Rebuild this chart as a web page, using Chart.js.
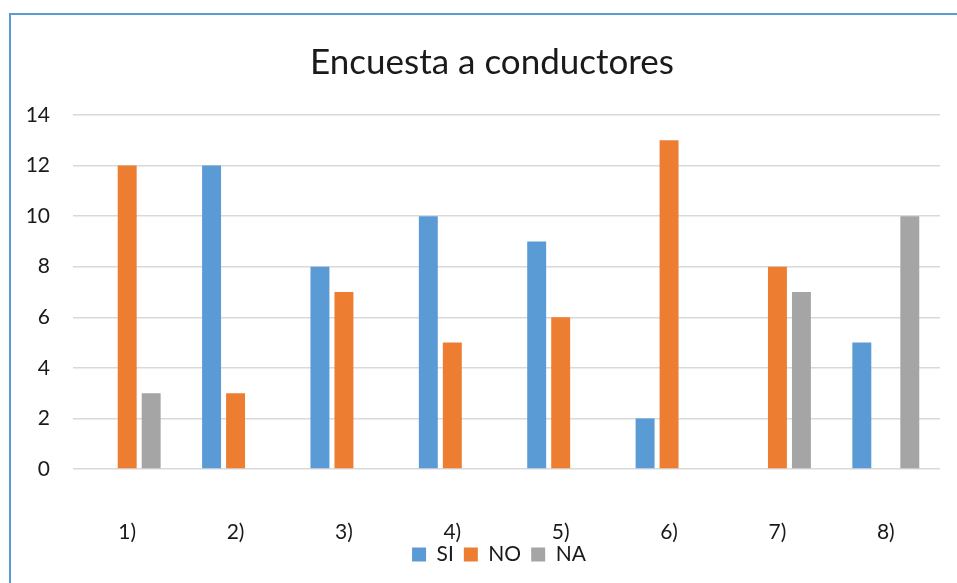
<!DOCTYPE html>
<html>
<head>
<meta charset="utf-8">
<script src="https://cdn.jsdelivr.net/npm/chart.js@4/dist/chart.umd.min.js"></script>
<style>
  html, body { margin: 0; padding: 0; background: #fff; overflow: hidden; }
  #wrap { position: relative; width: 957px; height: 583px; }
  #frame {
    position: absolute; left: 9px; top: 13px; width: 960px; height: 600px;
    border-left: 2px solid #5b9bd5; border-top: 2px solid #5b9bd5;
    box-sizing: border-box; pointer-events: none;
  }
  canvas { position: absolute; left: 0; top: 0; }
</style>
</head>
<body>
<div id="wrap">
  <canvas id="c" width="957" height="583"></canvas>
  <div id="frame"></div>
</div>
<script>
const categories = ['1)', '2)', '3)', '4)', '5)', '6)', '7)', '8)'];
const siValues = [0, 12, 8, 10, 9, 2, 0, 5];
const noValues = [12, 3, 7, 5, 6, 13, 8, 0];
const naValues = [3, 0, 0, 0, 0, 0, 7, 10];
const yTicks = [0, 2, 4, 6, 8, 10, 12, 14];

const FONT = 'Lato, "Liberation Sans", sans-serif';

// The chart frame is wider than the visible canvas, so the title and legend
// sit centred on the frame rather than on the plot area.
const frameCentre = {
  id: 'frameCentre',
  afterLayout(chart, args, opts) {
    chart.titleBlock.left += opts.titleDx;
    chart.titleBlock.right += opts.titleDx;
    chart.legend.left += opts.legendDx;
    chart.legend.right += opts.legendDx;
  },
  afterUpdate(chart) {
    // let the category labels hang below the axis box
    chart.scales.x._computeLabelArea = () => undefined;
  }
};

new Chart(document.getElementById('c'), {
  type: 'bar',
  data: {
    labels: categories,
    datasets: [
      { label: 'SI', data: siValues, backgroundColor: '#5b9bd5' },
      { label: 'NO', data: noValues, backgroundColor: '#ed7d31' },
      { label: 'NA', data: naValues, backgroundColor: '#a5a5a5' }
    ]
  },
  plugins: [frameCentre],
  options: {
    responsive: false,
    animation: false,
    devicePixelRatio: 1,
    layout: { padding: { left: 10, right: 17, top: 42, bottom: 8 } },
    datasets: { bar: { categoryPercentage: 0.664, barPercentage: 0.79 } },
    plugins: {
      frameCentre: { titleDx: 17, legendDx: 24 },
      title: {
        display: true,
        text: 'Encuesta a conductores',
        color: '#1a1a1a',
        font: { family: FONT, size: 35, weight: 'normal', lineHeight: 1.2 },
        padding: { top: 0, bottom: 31 }
      },
      legend: {
        position: 'bottom',
        labels: {
          color: '#1a1a1a',
          font: { family: FONT, size: 21, lineHeight: 1 },
          boxWidth: 14, boxHeight: 14, padding: 10
        }
      },
      tooltip: { enabled: false }
    },
    scales: {
      x: {
        afterFit: (s) => { s.height = 65; },
        grid: { display: false, drawTicks: false },
        border: { display: false },
        ticks: { color: '#1a1a1a', font: { family: FONT, size: 21, lineHeight: 1 }, padding: 53 }
      },
      y: {
        min: 0, max: 14,
        afterBuildTicks: (s) => { s.ticks = yTicks.map(v => ({ value: v })); },
        afterFit: (s) => { s.width = 63; },
        grid: { color: '#d9d9d9', lineWidth: 1.5, drawTicks: false },
        border: { display: false },
        ticks: { color: '#1a1a1a', font: { family: FONT, size: 21 }, padding: 23 }
      }
    }
  }
});
</script>
</body>
</html>
